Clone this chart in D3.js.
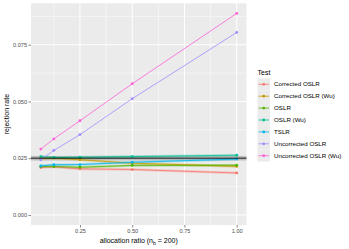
<!DOCTYPE html>
<html><head><meta charset="utf-8">
<script src="https://cdn.jsdelivr.net/npm/d3@7"></script>
<style>body{margin:0;background:#fff}svg{display:block;font-family:"Liberation Sans",Arial,sans-serif}</style>
</head><body><svg id="c" width="349" height="249"></svg>
<script>
const ratios = [0.0625, 0.125, 0.25, 0.5, 1.0];
const tests = ["Corrected OSLR","Corrected OSLR (Wu)","OSLR","OSLR (Wu)","TSLR","Uncorrected OSLR","Uncorrected OSLR (Wu)"];
const colors = ["#F8766D","#C49A00","#53B400","#00C094","#00B6EB","#A58AFF","#FB61D7"];
const correctedOSLR = [0.0209,0.0212,0.0203,0.0200,0.0185];
const correctedOSLRWu = [0.0249,0.0251,0.0243,0.0228,0.0214];
const oslr = [0.0213,0.0213,0.0210,0.0218,0.0219];
const oslrWu = [0.0257,0.0253,0.0254,0.0257,0.0263];
const tslr = [0.0216,0.0221,0.0222,0.0232,0.0246];
const uncorrectedOSLR = [0.0243,0.0284,0.0354,0.0512,0.0804];
const uncorrectedOSLRWu = [0.0290,0.0335,0.0415,0.0578,0.0888];
const seriesValues = [correctedOSLR,correctedOSLRWu,oslr,oslrWu,tslr,uncorrectedOSLR,uncorrectedOSLRWu];
const nominal = 0.025, band = [0.024, 0.026];
const xTicks = [0.25,0.5,0.75,1.0], yTicks = [0,0.025,0.05,0.075];

const svg = d3.select("#c");
const L=31, R=246.5, T=3.3, B=225;
const x = d3.scaleLinear().domain([0.015625,1.046875]).range([L,R]);
const y = d3.scaleLinear().domain([-0.00444,0.09324]).range([B,T]);

svg.append("rect").attr("x",L).attr("y",T).attr("width",R-L).attr("height",B-T).attr("fill","#EBEBEB");
const g = svg.append("g");
const xMinor = [0.125,0.375,0.625,0.875], yMinor=[0.0125,0.0375,0.0625,0.0875];
xMinor.forEach(v=>g.append("line").attr("x1",x(v)).attr("x2",x(v)).attr("y1",T).attr("y2",B).attr("stroke","#fff").attr("stroke-width",0.5));
yMinor.forEach(v=>g.append("line").attr("y1",y(v)).attr("y2",y(v)).attr("x1",L).attr("x2",R).attr("stroke","#fff").attr("stroke-width",0.5));
xTicks.forEach(v=>g.append("line").attr("x1",x(v)).attr("x2",x(v)).attr("y1",T).attr("y2",B).attr("stroke","#fff").attr("stroke-width",1));
yTicks.forEach(v=>g.append("line").attr("y1",y(v)).attr("y2",y(v)).attr("x1",L).attr("x2",R).attr("stroke","#fff").attr("stroke-width",1));

g.append("rect").attr("x",L).attr("width",R-L).attr("y",y(band[1])).attr("height",y(band[0])-y(band[1])).attr("fill","#000").attr("opacity",0.2);

const line = d3.line().x((d,i)=>x(ratios[i])).y(d=>y(d));
seriesValues.slice(0,5).forEach((vals,k)=>{
  g.append("path").attr("d",line(vals)).attr("fill","none").attr("stroke",colors[k]).attr("stroke-width",2.6).attr("opacity",0.3);
});
seriesValues.forEach((vals,k)=>{
  g.append("path").attr("d",line(vals)).attr("fill","none").attr("stroke",colors[k]).attr("stroke-width",0.8);
  vals.forEach((v,i)=>g.append("circle").attr("cx",x(ratios[i])).attr("cy",y(v)).attr("r",1.4).attr("fill",colors[k]));
});
g.append("line").attr("x1",L).attr("x2",R).attr("y1",y(nominal)).attr("y2",y(nominal)).attr("stroke","#000").attr("stroke-width",0.9);

const xa = svg.append("g").attr("transform",`translate(0,${B})`).call(d3.axisBottom(x).tickValues(xTicks).tickFormat(d3.format(".2f")).tickSize(2.5).tickPadding(1.5));
const ya = svg.append("g").attr("transform",`translate(${L},0)`).call(d3.axisLeft(y).tickValues(yTicks).tickFormat(d3.format(".3f")).tickSize(2.5).tickPadding(1.5));
[xa,ya].forEach(a=>{a.select(".domain").remove();a.selectAll(".tick line").attr("stroke","#333").attr("stroke-width",0.6);a.selectAll("text").attr("fill","#4D4D4D").attr("font-size","5.6px").attr("font-family","Liberation Sans, Arial, sans-serif");});

const xt = svg.append("text").attr("x",(L+R)/2).attr("y",243).attr("text-anchor","middle").attr("font-size","7px").attr("fill","#000");
xt.append("tspan").text("allocation ratio (n");
xt.append("tspan").text("b").attr("font-size","5px").attr("dy","1.5");
xt.append("tspan").text(" = 200)").attr("dy","-1.5");
svg.append("text").attr("transform",`translate(9,${(T+B)/2}) rotate(-90)`).attr("text-anchor","middle").attr("font-size","7px").text("rejection rate");

const lg = svg.append("g");
lg.append("text").attr("x",257.5).attr("y",74.5).attr("font-size","7px").text("Test");
tests.forEach((t,k)=>{
  const cy = 84.3 + k*11.9;
  lg.append("rect").attr("x",257.5).attr("y",cy-5.9).attr("width",12.5).attr("height",11.8).attr("fill","#EBEBEB");
  lg.append("line").attr("x1",258.5).attr("x2",269).attr("y1",cy).attr("y2",cy).attr("stroke",colors[k]).attr("stroke-width",0.8);
  lg.append("circle").attr("cx",263.75).attr("cy",cy).attr("r",1.4).attr("fill",colors[k]);
  lg.append("text").attr("x",274).attr("y",cy+2).attr("font-size","6.2px").attr("fill","#000").text(t);
});
</script></body></html>
